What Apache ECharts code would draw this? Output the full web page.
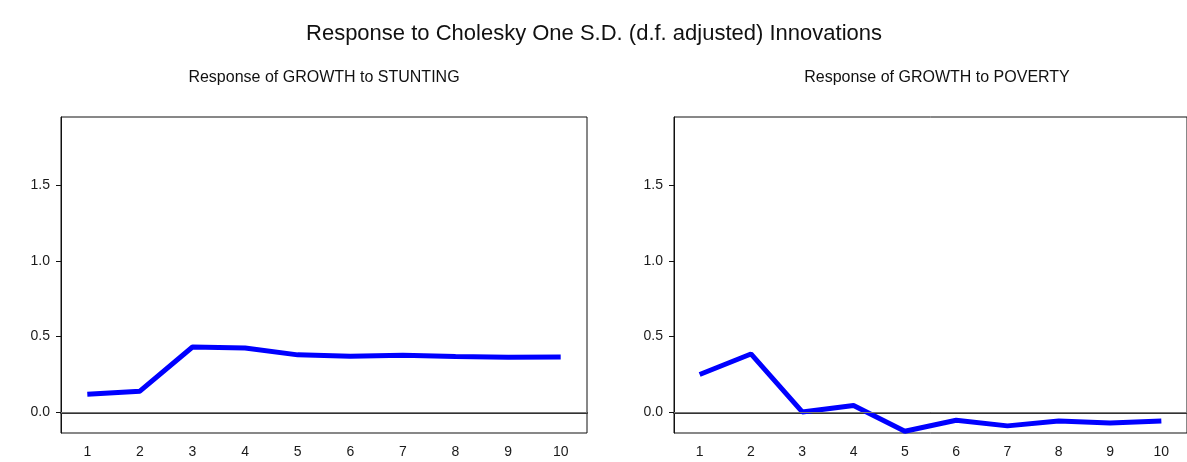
<!DOCTYPE html>
<html>
<head>
<meta charset="utf-8">
<script src="https://cdn.jsdelivr.net/npm/echarts@6/dist/echarts.min.js"></script>
<style>
  html, body { margin: 0; padding: 0; background: #fff; }
  #chart { width: 1187px; height: 462px; }
</style>
</head>
<body>
<div id="chart"></div>
<script>
// periods after the shock
const periods = ['1', '2', '3', '4', '5', '6', '7', '8', '9', '10'];
// response of GROWTH to STUNTING
const stunting = [0.119, 0.139, 0.431, 0.425, 0.379, 0.370, 0.376, 0.368, 0.363, 0.365];
// response of GROWTH to POVERTY
const poverty = [0.249, 0.385, 0.002, 0.044, -0.125, -0.053, -0.090, -0.057, -0.071, -0.057];
const yTicks = [0, 0.5, 1.0, 1.5];

const FONT = '"Liberation Sans", Arial, sans-serif';
const chart = echarts.init(document.getElementById('chart'));

function panelAxes(idx) {
    const x = {
        type: 'category', gridIndex: idx, data: periods, boundaryGap: true,
        axisLine: { lineStyle: { color: '#333', width: 2 } },
        axisTick: { length: 7, lineStyle: { color: '#333' } },
        axisLabel: { color: '#1a1a1a', fontSize: 14, fontFamily: FONT, margin: 12 },
        splitLine: { show: false }
    };
    const y = {
        type: 'value', gridIndex: idx, min: -0.137, max: 1.95,
        axisLine: { show: true, lineStyle: { color: '#111', width: 1 } },
        axisTick: { show: true, length: 5, customValues: yTicks, lineStyle: { color: '#111' } },
        axisLabel: {
            color: '#1a1a1a', fontSize: 14, fontFamily: FONT, margin: 11,
            customValues: yTicks, formatter: v => v.toFixed(1)
        },
        splitLine: { show: false }
    };
    return [x, y];
}

const [x0, y0] = panelAxes(0);
const [x1, y1] = panelAxes(1);

function lineSeries(idx, data) {
    return {
        type: 'line', xAxisIndex: idx, yAxisIndex: idx, data: data,
        symbol: 'none', lineStyle: { color: '#0000ff', width: 5 },
        animation: false,
        markLine: {
            silent: true, symbol: 'none', label: { show: false },
            lineStyle: { color: '#777', width: 1, type: 'solid' },
            data: [{ yAxis: 0 }]
        }
    };
}

chart.setOption({
    backgroundColor: '#fff',
    animation: false,
    grid: [
        { left: 61, top: 117, width: 526, height: 316, show: true, borderColor: '#111', borderWidth: 1 },
        { left: 674, top: 117, width: 526, height: 316, show: true, borderColor: '#111', borderWidth: 1 }
    ],
    xAxis: [x0, x1],
    yAxis: [y0, y1],
    graphic: [
        { type: 'text', x: 594, y: 34,
          style: { text: 'Response to Cholesky One S.D. (d.f. adjusted) Innovations', fontSize: 22, fontFamily: FONT, fill: '#111', align: 'center', verticalAlign: 'middle' } },
        { type: 'text', x: 324, y: 78,
          style: { text: 'Response of GROWTH to STUNTING', fontSize: 16, fontFamily: FONT, fill: '#111', align: 'center', verticalAlign: 'middle' } },
        { type: 'text', x: 937, y: 78,
          style: { text: 'Response of GROWTH to POVERTY', fontSize: 16, fontFamily: FONT, fill: '#111', align: 'center', verticalAlign: 'middle' } }
    ],
    series: [lineSeries(0, stunting), lineSeries(1, poverty)]
});
</script>
</body>
</html>
